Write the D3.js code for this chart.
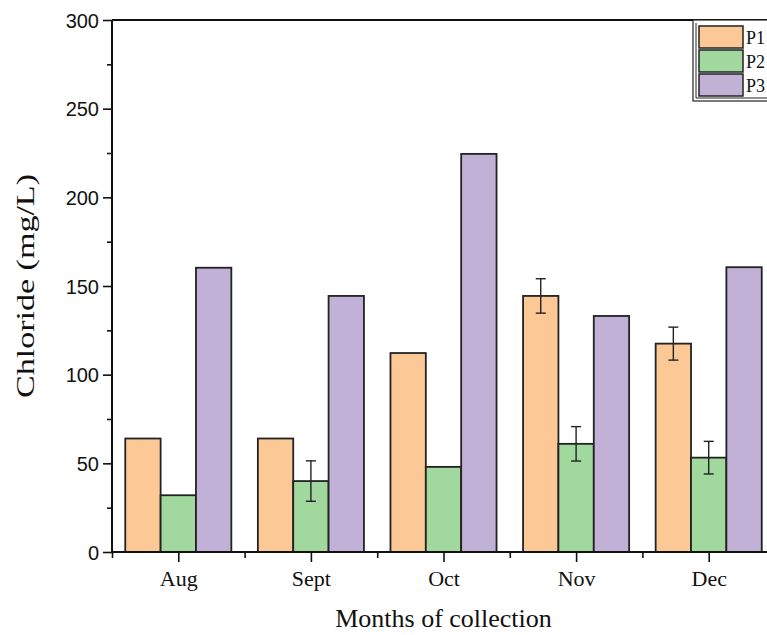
<!DOCTYPE html>
<html>
<head>
<meta charset="utf-8">
<script src="https://cdn.jsdelivr.net/npm/d3@7"></script>
<style>
  body { margin: 0; background: #fff; }
  svg { display: block; }
</style>
</head>
<body>
<div id="chartContainer"></div>
<script>
// データ
var months = ["Aug", "Sept", "Oct", "Nov", "Dec"];
var series = ["P1", "P2", "P3"];
var p1 = [64, 64, 112.2, 144.4, 117.5];
var p2 = [32, 40, 48, 61, 53.2];
var p3 = [160.3, 144.4, 224.5, 133.1, 160.6];
var p1Err = [0, 0, 0, 9.7, 9.3];
var p2Err = [0, 11.4, 0, 9.7, 9.2];
var p3Err = [0, 0, 0, 0, 0];
var yTicks = [0, 50, 100, 150, 200, 250, 300];
var colors = ["#fcc996", "#a0d89e", "#c2b1d6"];

var values = [p1, p2, p3], errors = [p1Err, p2Err, p3Err];

// 表示領域の設定
var margin = {top: 20, right: -8, bottom: 83, left: 112},
    W = 767, H = 635,
    width = W - margin.left - margin.right,
    height = H - margin.top - margin.bottom;

var svg = d3.select("#chartContainer").append("svg")
  .attr("width", W)
  .attr("height", H)
  .append("g")
  .attr("transform", "translate(" + margin.left + "," + margin.top + ")");

// 横軸: 月の中心
var x = d3.scalePoint().domain(months).range([0, width]).padding(0.5);
var step = x.step();
var xs = d3.scaleBand().domain(series).range([-step * 0.4, step * 0.4]);

// 縦軸
var y = d3.scaleLinear().domain([0, 300]).range([height, 0]);

// 棒グラフ
var rows = [];
months.forEach(function(m, i) {
  series.forEach(function(s, j) {
    rows.push({month: m, key: s, idx: j, v: values[j][i], e: errors[j][i]});
  });
});

svg.append("g").selectAll("rect")
  .data(rows).enter().append("rect")
  .attr("x", function(d) { return x(d.month) + xs(d.key); })
  .attr("y", function(d) { return y(d.v); })
  .attr("width", xs.bandwidth())
  .attr("height", function(d) { return y(0) - y(d.v); })
  .attr("fill", function(d) { return colors[d.idx]; })
  .attr("stroke", "#222")
  .attr("stroke-width", 1.8);

// エラーバー
var eb = svg.append("g").attr("stroke", "#222").attr("stroke-width", 1.4)
  .selectAll("g").data(rows.filter(function(d) { return d.e > 0; })).enter().append("g")
  .attr("transform", function(d) { return "translate(" + (x(d.month) + xs(d.key) + xs.bandwidth() / 2) + ",0)"; });
eb.append("line").attr("y1", function(d) { return y(d.v + d.e); }).attr("y2", function(d) { return y(d.v - d.e); });
eb.append("line").attr("x1", -5).attr("x2", 5).attr("y1", function(d) { return y(d.v + d.e); }).attr("y2", function(d) { return y(d.v + d.e); });
eb.append("line").attr("x1", -5).attr("x2", 5).attr("y1", function(d) { return y(d.v - d.e); }).attr("y2", function(d) { return y(d.v - d.e); });

// X軸
var xAxis = d3.axisBottom(x).tickSize(10).tickSizeOuter(0).tickPadding(8);
var gx = svg.append("g").attr("transform", "translate(0," + height + ")").call(xAxis);
gx.select(".domain").remove();
gx.selectAll(".tick line").attr("stroke", "#111").attr("stroke-width", 1.6);
gx.selectAll("text").attr("font-family", "'Liberation Serif', 'Times New Roman', serif")
  .attr("font-size", 22).attr("fill", "#111");

// 副目盛り (月の境界)
var xMinor = d3.scaleLinear().domain([0, months.length]).range([0, width]);
var gxm = svg.append("g").attr("transform", "translate(0," + height + ")")
  .call(d3.axisBottom(xMinor).tickValues(d3.range(0, months.length + 1)).tickSize(6).tickFormat(""));
gxm.select(".domain").remove();
gxm.selectAll(".tick line").attr("stroke", "#111").attr("stroke-width", 1.6);

// Y軸
var yAxis = d3.axisLeft(y).tickValues(yTicks).tickSize(9).tickSizeOuter(0).tickPadding(4);
var gy = svg.append("g").call(yAxis);
gy.select(".domain").remove();
gy.selectAll(".tick line").attr("stroke", "#111").attr("stroke-width", 1.6);
gy.selectAll("text").attr("font-family", "'Liberation Sans', Arial, sans-serif")
  .attr("font-size", 20).attr("fill", "#111").attr("dy", "0.36em");

var gym = svg.append("g")
  .call(d3.axisLeft(y).tickValues(d3.range(25, 300, 50)).tickSize(5).tickFormat(""));
gym.select(".domain").remove();
gym.selectAll(".tick line").attr("stroke", "#111").attr("stroke-width", 1.6);

// 枠線
svg.append("line").attr("x1", 0).attr("x2", 0).attr("y1", 0).attr("y2", height)
  .attr("stroke", "#111").attr("stroke-width", 2);
svg.append("line").attr("x1", 0).attr("x2", width).attr("y1", height).attr("y2", height)
  .attr("stroke", "#111").attr("stroke-width", 2);
svg.append("line").attr("x1", 0).attr("x2", width).attr("y1", 0).attr("y2", 0)
  .attr("stroke", "#111").attr("stroke-width", 2);

// 軸ラベル
svg.append("text")
  .attr("x", x("Oct"))
  .attr("y", height + 75)
  .attr("text-anchor", "middle")
  .attr("font-family", "'Liberation Serif', 'Times New Roman', serif")
  .attr("font-size", 26).attr("fill", "#111")
  .text("Months of collection");

svg.append("text")
  .attr("transform", "translate(" + (-78) + "," + (height / 2) + ") rotate(-90)")
  .attr("text-anchor", "middle")
  .attr("font-family", "'Liberation Serif', 'Times New Roman', serif")
  .attr("font-size", 25).attr("fill", "#111")
  .attr("textLength", 224).attr("lengthAdjust", "spacingAndGlyphs")
  .text("Chloride (mg/L)");

// 凡例
var legend = svg.append("g").attr("transform", "translate(" + (width - 82) + ",0)");
legend.append("rect").attr("x", 0).attr("y", 0).attr("width", 100).attr("height", 81)
  .attr("fill", "#fff").attr("stroke", "#222").attr("stroke-width", 1.2);
legend.append("path").attr("d", "M3,3V78H100")
  .attr("fill", "none").attr("stroke", "#222").attr("stroke-width", 1);
var li = legend.selectAll("g.item").data(series).enter().append("g")
  .attr("class", "item")
  .attr("transform", function(d, i) { return "translate(6," + (6 + i * 24) + ")"; });
li.append("rect").attr("width", 44).attr("height", 22)
  .attr("fill", function(d, i) { return colors[i]; })
  .attr("stroke", "#222").attr("stroke-width", 1.5);
li.append("text").attr("x", 47).attr("y", 18)
  .attr("font-family", "'Liberation Serif', 'Times New Roman', serif")
  .attr("font-size", 18).attr("fill", "#111")
  .text(function(d) { return d; });
</script>
</body>
</html>
